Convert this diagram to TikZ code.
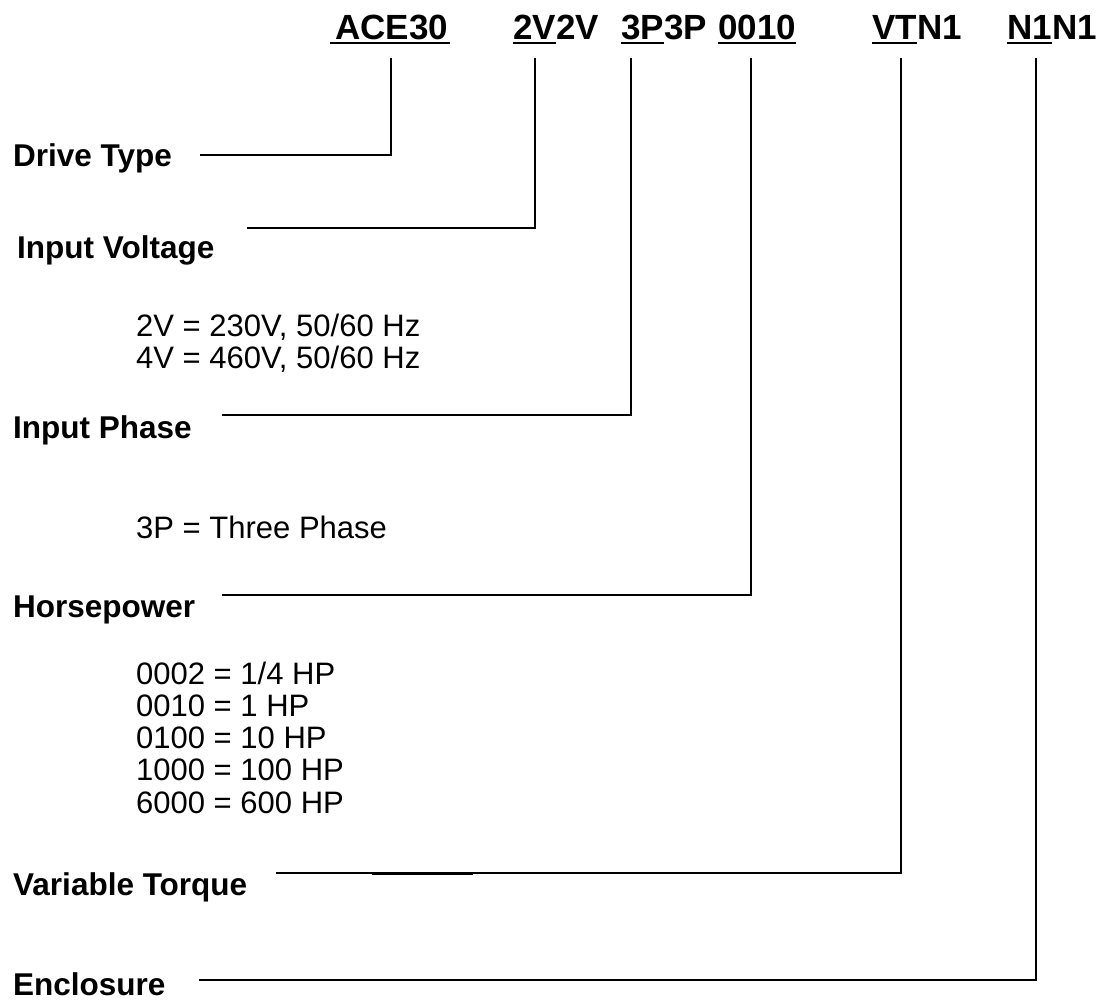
\documentclass[tikz,border=0pt]{standalone}
\usepackage{fontspec}
\setmainfont{Liberation Sans}
\usetikzlibrary{positioning}

\begin{document}
\begin{tikzpicture}[x=1pt, y=-1pt,
    code/.style={font=\fontsize{35}{40}\selectfont\bfseries, inner sep=0pt, anchor=base west},
    lbl/.style={font=\fontsize{31.5}{36}\selectfont\bfseries, inner sep=0pt, anchor=base west},
    val/.style={font=\fontsize{31}{36}\selectfont, inner sep=0pt, anchor=base west},
    lead/.style={line width=1.5pt},
    uline/.style={line width=2pt}]
    \useasboundingbox (0,0) rectangle (1106,1004);
    % model number
    \node[code] (ace) at (335,39) {ACE30};
    \node[code] (vin) at (513,39) {2V};
    \node[code] (vinx) at (vin.base east) {2V};
    \node[code] (ph) at (621,39) {3P};
    \node[code] (phx) at (ph.base east) {3P};
    \node[code] (hp) at (718,39) {0010};
    \node[code] (vt) at (872,39) {VT};
    \node[code] (vtx) at (vt.base east) {N1};
    \node[code] (enc) at (1007,39) {N1};
    \node[code] (encx) at (enc.base east) {N1};
    \foreach \n in {vin,ph,hp,vt,enc}
      \draw[uline] ([yshift=-4pt]\n.base west) -- ([yshift=-4pt]\n.base east);
    \draw[uline] ([xshift=-5pt,yshift=-4pt]ace.base west) -- ([xshift=2pt,yshift=-4pt]ace.base east);
    % drop points
    \coordinate (d1) at (391,58);
    \coordinate (d2) at (535,58);
    \coordinate (d3) at (631,58);
    \coordinate (d4) at (751,58);
    \coordinate (d5) at (901,58);
    \coordinate (d6) at (1036,58);
    % fields
    \node[lbl] (drive) at (13,166) {Drive Type};
    \node[lbl] (volt) at (17,258) {Input Voltage};
    \node[val] (v1) at (136,336) {2V = 230V, 50/60 Hz};
    \node[val] (v2) at (136,368) {4V = 460V, 50/60 Hz};
    \node[lbl] (phase) at (13,438) {Input Phase};
    \node[val] (p1) at (136,538) {3P = Three Phase};
    \node[lbl] (power) at (13,617) {Horsepower};
    \foreach \t [count=\i from 0] in {0002 = 1/4 HP, 0010 = 1 HP, 0100 = 10 HP, 1000 = 100 HP, 6000 = 600 HP}
      \node[val] (h\i) at (136,{684+32.3*\i}) {\t};
    \node[lbl] (torque) at (13,895) {Variable Torque};
    \node[lbl] (encl) at (13,995) {Enclosure};
    % leaders
    \coordinate (c1) at (391,155);
    \coordinate (c2) at (535,228);
    \coordinate (c3) at (631,415);
    \coordinate (c4) at (751,595);
    \coordinate (c5) at (901,873);
    \coordinate (c6) at (1036,980);
    \draw[lead] (drive.east |- c1) ++(28,0) -- (c1) -- (d1);
    \draw[lead] (volt.east |- c2) ++(32,0) -- (c2) -- (d2);
    \draw[lead] (phase.east |- c3) ++(30,0) -- (c3) -- (d3);
    \draw[lead] (power.east |- c4) ++(27,0) -- (c4) -- (d4);
    \draw[lead] (torque.east |- c5) ++(29,0) -- (c5) -- (d5);
    \draw[lead] (encl.east |- c6) ++(33,0) -- (c6) -- (d6);
    \draw[line width=3pt] (372,873) -- (473,873);
\end{tikzpicture}
\end{document}
